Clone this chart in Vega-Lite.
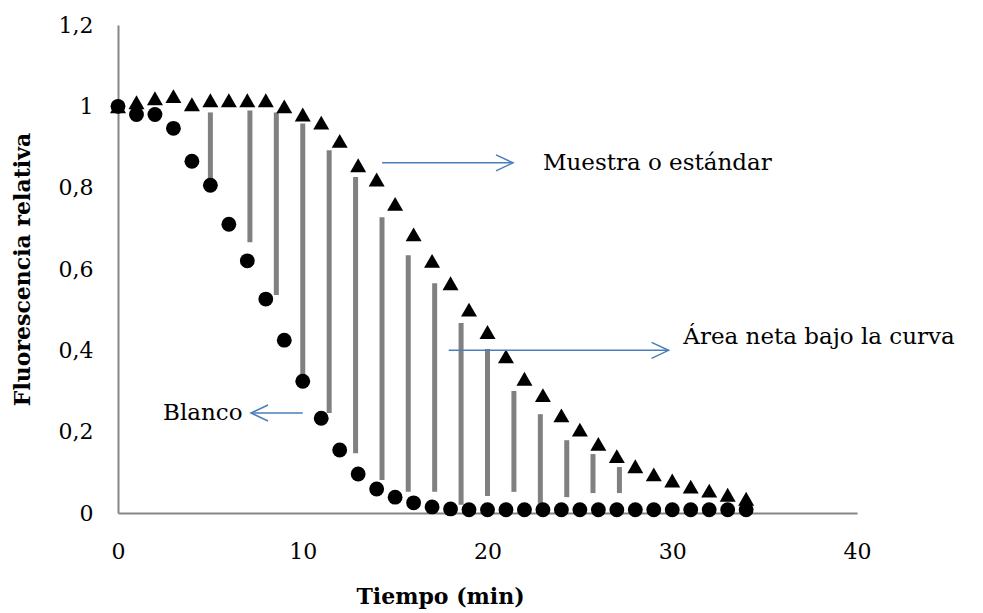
{
  "$schema": "https://vega.github.io/schema/vega-lite/v6.json",
  "width": 739,
  "height": 488,
  "autosize": {"type": "none"},
  "padding": {"left": 118, "top": 25, "right": 126, "bottom": 100},
  "config": {
    "view": {"stroke": null},
    "font": "DejaVu Serif",
    "axis": {
      "domainColor": "#868686",
      "domainWidth": 2,
      "ticks": false,
      "grid": false,
      "labelFlush": false,
      "labelFont": "DejaVu Serif",
      "labelFontSize": 22,
      "labelColor": "#000000",
      "titleFont": "DejaVu Serif",
      "titleFontSize": 22,
      "titleFontWeight": "bold",
      "titleColor": "#000000"
    }
  },
  "datasets": {
    "blanco": [
      {"t": 0, "f": 1.0}, {"t": 1, "f": 0.98}, {"t": 2, "f": 0.98}, {"t": 3, "f": 0.946},
      {"t": 4, "f": 0.865}, {"t": 5, "f": 0.806}, {"t": 6, "f": 0.71}, {"t": 7, "f": 0.62},
      {"t": 8, "f": 0.526}, {"t": 9, "f": 0.425}, {"t": 10, "f": 0.324}, {"t": 11, "f": 0.233},
      {"t": 12, "f": 0.155}, {"t": 13, "f": 0.096}, {"t": 14, "f": 0.059}, {"t": 15, "f": 0.039},
      {"t": 16, "f": 0.025}, {"t": 17, "f": 0.015}, {"t": 18, "f": 0.01}, {"t": 19, "f": 0.008},
      {"t": 20, "f": 0.008}, {"t": 21, "f": 0.008}, {"t": 22, "f": 0.008}, {"t": 23, "f": 0.008},
      {"t": 24, "f": 0.008}, {"t": 25, "f": 0.008}, {"t": 26, "f": 0.008}, {"t": 27, "f": 0.008},
      {"t": 28, "f": 0.008}, {"t": 29, "f": 0.008}, {"t": 30, "f": 0.008}, {"t": 31, "f": 0.008},
      {"t": 32, "f": 0.008}, {"t": 33, "f": 0.008}, {"t": 34, "f": 0.008}
    ],
    "muestra": [
      {"t": 0, "f": 1.0}, {"t": 1, "f": 1.01}, {"t": 2, "f": 1.02}, {"t": 3, "f": 1.025},
      {"t": 4, "f": 1.005}, {"t": 5, "f": 1.015}, {"t": 6, "f": 1.015}, {"t": 7, "f": 1.015},
      {"t": 8, "f": 1.015}, {"t": 9, "f": 1.0}, {"t": 10, "f": 0.98}, {"t": 11, "f": 0.96},
      {"t": 12, "f": 0.915}, {"t": 13, "f": 0.855}, {"t": 14, "f": 0.82}, {"t": 15, "f": 0.76},
      {"t": 16, "f": 0.685}, {"t": 17, "f": 0.62}, {"t": 18, "f": 0.565}, {"t": 19, "f": 0.5},
      {"t": 20, "f": 0.445}, {"t": 21, "f": 0.385}, {"t": 22, "f": 0.33}, {"t": 23, "f": 0.29},
      {"t": 24, "f": 0.24}, {"t": 25, "f": 0.205}, {"t": 26, "f": 0.17}, {"t": 27, "f": 0.14},
      {"t": 28, "f": 0.115}, {"t": 29, "f": 0.095}, {"t": 30, "f": 0.08}, {"t": 31, "f": 0.065},
      {"t": 32, "f": 0.055}, {"t": 33, "f": 0.045}, {"t": 34, "f": 0.035}
    ],
    "area": [
      {"t": 5.0, "top": 0.985, "bottom": 0.823},
      {"t": 7.14, "top": 0.99, "bottom": 0.666},
      {"t": 8.57, "top": 0.985, "bottom": 0.536},
      {"t": 10.0, "top": 0.958, "bottom": 0.334},
      {"t": 11.43, "top": 0.892, "bottom": 0.246},
      {"t": 12.86, "top": 0.826, "bottom": 0.147},
      {"t": 14.29, "top": 0.727, "bottom": 0.081},
      {"t": 15.71, "top": 0.634, "bottom": 0.052},
      {"t": 17.14, "top": 0.565, "bottom": 0.052},
      {"t": 18.57, "top": 0.467, "bottom": 0.02},
      {"t": 20.0, "top": 0.403, "bottom": 0.042},
      {"t": 21.43, "top": 0.3, "bottom": 0.052},
      {"t": 22.86, "top": 0.243, "bottom": 0.02},
      {"t": 24.29, "top": 0.179, "bottom": 0.039},
      {"t": 25.71, "top": 0.145, "bottom": 0.049},
      {"t": 27.14, "top": 0.113, "bottom": 0.049}
    ],
    "flechas": [
      {"desde": 14.29, "hasta": 21.38, "y": 0.861, "dir": "der"},
      {"desde": 17.9, "hasta": 29.8, "y": 0.4, "dir": "der"},
      {"desde": 10.0, "hasta": 7.2, "y": 0.246, "dir": "izq"}
    ],
    "notas": [
      {"texto": "Muestra o estándar", "x": 23.0, "y": 0.861},
      {"texto": "Área neta bajo la curva", "x": 30.6, "y": 0.433},
      {"texto": "Blanco", "x": 2.44, "y": 0.246}
    ]
  },
  "layer": [
    {
      "data": {"name": "area"},
      "mark": {"type": "rule", "color": "#808080", "strokeWidth": 5},
      "encoding": {
        "x": {
          "field": "t", "type": "quantitative",
          "title": "Tiempo (min)",
          "scale": {"domain": [0, 40], "nice": false, "zero": false},
          "axis": {
            "values": [0, 10, 20, 30, 40],
            "labelPadding": 28,
            "titlePadding": 24,
            "titleX": 322
          }
        },
        "y": {
          "field": "top", "type": "quantitative",
          "title": "Fluorescencia relativa",
          "scale": {"domain": [0, 1.2], "nice": false},
          "axis": {
            "values": [0, 0.2, 0.4, 0.6, 0.8, 1, 1.2],
            "labelExpr": "replace(format(datum.value, '.1~f'), '.', ',')",
            "labelPadding": 25,
            "titlePadding": 24
          }
        },
        "y2": {"field": "bottom"}
      }
    },
    {
      "data": {"name": "blanco"},
      "mark": {"type": "point", "shape": "circle", "filled": true, "color": "#000000", "opacity": 1, "size": 220},
      "encoding": {
        "x": {"field": "t", "type": "quantitative", "title": "Tiempo (min)"},
        "y": {"field": "f", "type": "quantitative", "title": "Fluorescencia relativa"}
      }
    },
    {
      "data": {"name": "muestra"},
      "mark": {"type": "point", "shape": "triangle-up", "filled": true, "color": "#000000", "opacity": 1, "size": 256},
      "encoding": {
        "x": {"field": "t", "type": "quantitative", "title": "Tiempo (min)"},
        "y": {"field": "f", "type": "quantitative", "title": "Fluorescencia relativa"}
      }
    },
    {
      "data": {"name": "flechas"},
      "mark": {"type": "rule", "color": "#4A7EBB", "strokeWidth": 1.5},
      "encoding": {
        "x": {"field": "desde", "type": "quantitative", "title": "Tiempo (min)"},
        "x2": {"field": "hasta"},
        "y": {"field": "y", "type": "quantitative", "title": "Fluorescencia relativa"}
      }
    },
    {
      "data": {"name": "flechas"},
      "transform": [{"filter": "datum.dir === 'der'"}],
      "mark": {"type": "point", "shape": "M-1,-0.47L0,0L-1,0.47", "filled": false, "stroke": "#4A7EBB", "strokeWidth": 1.5, "opacity": 1, "size": 1156},
      "encoding": {
        "x": {"field": "hasta", "type": "quantitative", "title": "Tiempo (min)"},
        "y": {"field": "y", "type": "quantitative", "title": "Fluorescencia relativa"}
      }
    },
    {
      "data": {"name": "flechas"},
      "transform": [{"filter": "datum.dir === 'izq'"}],
      "mark": {"type": "point", "shape": "M1,-0.47L0,0L1,0.47", "filled": false, "stroke": "#4A7EBB", "strokeWidth": 1.5, "opacity": 1, "size": 1156},
      "encoding": {
        "x": {"field": "hasta", "type": "quantitative", "title": "Tiempo (min)"},
        "y": {"field": "y", "type": "quantitative", "title": "Fluorescencia relativa"}
      }
    },
    {
      "data": {"name": "notas"},
      "mark": {"type": "text", "align": "left", "baseline": "middle", "font": "DejaVu Serif", "fontSize": 23, "color": "#000000"},
      "encoding": {
        "x": {"field": "x", "type": "quantitative", "title": "Tiempo (min)"},
        "y": {"field": "y", "type": "quantitative", "title": "Fluorescencia relativa"},
        "text": {"field": "texto"}
      }
    }
  ]
}
